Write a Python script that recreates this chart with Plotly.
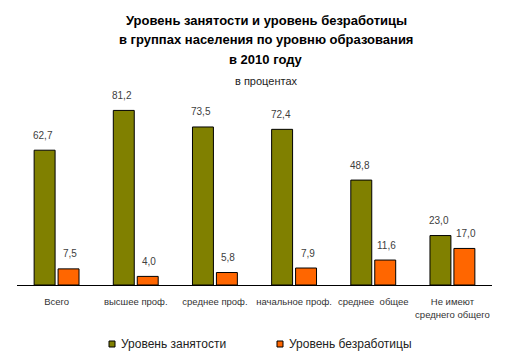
import plotly.graph_objects as go

categories = ["Всего", "высшее проф.", "среднее проф.", "начальное проф.",
              "среднее  общее", "Не имеют<br>среднего общего"]
employment = [62.7, 81.2, 73.5, 72.4, 48.8, 23.0]
unemployment = [7.5, 4.0, 5.8, 7.9, 11.6, 17.0]
series_names = ["Уровень занятости", "Уровень безработицы"]
title_lines = ["Уровень занятости и уровень безработицы",
               "в группах населения по уровню образования",
               "в 2010 году"]
subtitle = "в процентах"

GREEN = "#808000"
ORANGE = "#FF6600"
FONT = "Liberation Sans"

# page body has an 8px margin; figure is sized/positioned to compensate
OFF = 8
W, H = 510 - OFF, 364 - OFF
ML = 17 - OFF
MR = W - (492 - OFF)
MB = H - (285 - OFF)
MT = 70 - OFF
PH = H - MT - MB
PW = W - ML - MR

def fmt(v):
    return f"{v:.1f}".replace(".", ",")

fig = go.Figure()
fig.add_trace(go.Bar(x=categories, y=employment, name=series_names[0],
                     marker=dict(color=GREEN, line=dict(color="black", width=1))))
fig.add_trace(go.Bar(x=categories, y=unemployment, name=series_names[1],
                     marker=dict(color=ORANGE, line=dict(color="black", width=1))))

annotations = []
for i, c in enumerate(categories):
    for vals, xs in ((employment, -13.5), (unemployment, 13.5)):
        annotations.append(dict(x=c, y=vals[i], xref="x", yref="y", text=fmt(vals[i]),
                                showarrow=False, xshift=xs, yshift=15, yanchor="middle",
                                font=dict(family=FONT, size=10, color="#404040")))

def py(p):
    return (H - MB - (p - OFF)) / PH

def px(p):
    return ((p - OFF) - ML) / PW

for line, yp in zip(title_lines, [20, 40, 59]):
    annotations.append(dict(x=px(266), y=py(yp), xref="paper", yref="paper", text=f"<b>{line}</b>",
                            showarrow=False, yanchor="middle",
                            font=dict(family=FONT, size=13, color="black")))
annotations.append(dict(x=px(266), y=py(81), xref="paper", yref="paper", text=subtitle,
                        showarrow=False, yanchor="middle",
                        font=dict(family=FONT, size=11, color="#222")))

# custom legend (small squares like the original)
shapes = []
for name, color, x0 in ((series_names[0], GREEN, 109), (series_names[1], ORANGE, 277)):
    shapes.append(dict(type="rect", xref="paper", yref="paper",
                       x0=px(x0), x1=px(x0 + 6), y0=py(347), y1=py(341),
                       fillcolor=color, line=dict(color="black", width=1)))
    annotations.append(dict(x=px(x0 + 10), y=py(344), xref="paper", yref="paper",
                            text=name, showarrow=False, xanchor="left", yanchor="middle",
                            font=dict(family=FONT, size=12, color="#222")))

fig.update_layout(
    width=W, height=H,
    margin=dict(l=ML, r=MR, t=MT, b=MB, autoexpand=False),
    paper_bgcolor="white", plot_bgcolor="white",
    barmode="group", bargap=0.395, bargroupgap=0.125,
    annotations=annotations,
    shapes=shapes,
    showlegend=False,
    xaxis=dict(showline=True, linecolor="black", linewidth=1, ticks="",
               ticklabelstandoff=8, automargin=False,
               tickfont=dict(family=FONT, size=9.5, color="#333"), fixedrange=True),
    yaxis=dict(range=[0, 100], visible=False, showgrid=False, fixedrange=True,
               automargin=False),
)

fig.write_html("out.html")
